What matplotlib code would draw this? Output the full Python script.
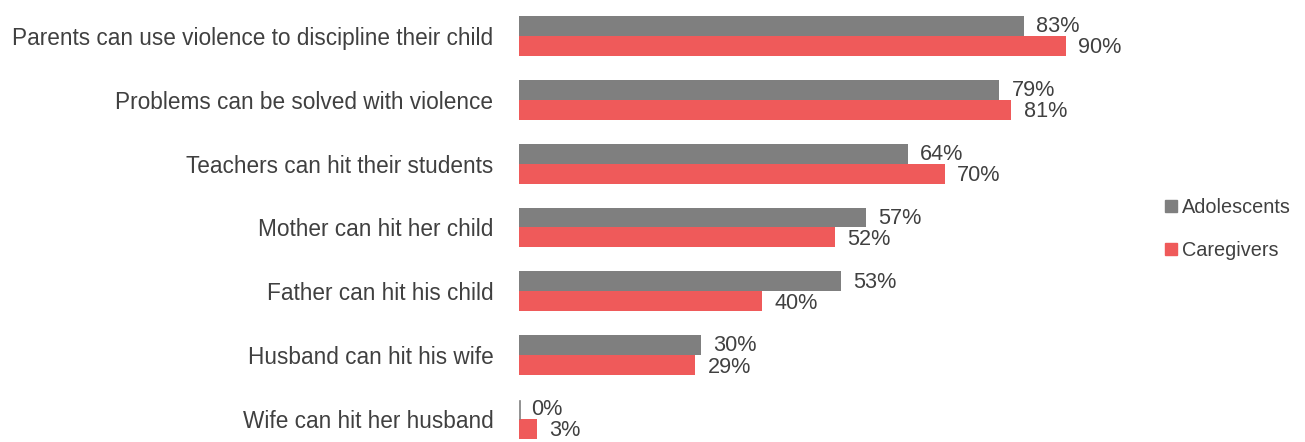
import numpy as np
import matplotlib.pyplot as plt
from matplotlib.patches import Patch

categories = [
    "Parents can use violence to discipline their child",
    "Problems can be solved with violence",
    "Teachers can hit their students",
    "Mother can hit her child",
    "Father can hit his child",
    "Husband can hit his wife",
    "Wife can hit her husband",
]
adolescents = [83, 79, 64, 57, 53, 30, 0]
caregivers = [90, 81, 70, 52, 40, 29, 3]

grey = "#7f7f7f"
red = "#ef5a5a"
txt = "#404040"

plt.rcParams["font.family"] = ["Liberation Sans", "DejaVu Sans"]

fig = plt.figure(figsize=(13.05, 4.42), dpi=100)
ax = fig.add_axes([519 / 1305, 0, 608 / 1305, 1 - 4 / 442])

y = np.arange(len(categories))
h = 0.3125
ax.barh(y - h / 2, adolescents, height=h, color=grey, label="Adolescents")
ax.barh(y + h / 2, caregivers, height=h, color=red, label="Caregivers")

# zero-value bar still shows as a thin tick at the axis
for yi, v in zip(y, adolescents):
    if v == 0:
        ax.plot([0.1, 0.1], [yi - h + 0.03, yi], color=grey, lw=1.2)

for yi, v in zip(y, adolescents):
    ax.text(v + 2.0, yi - h / 2 + 0.01, f"{v}%", va="center", ha="left",
            fontsize=15.6, color=txt)
for yi, v in zip(y, caregivers):
    ax.text(v + 2.0, yi + h / 2 + 0.03, f"{v}%", va="center", ha="left",
            fontsize=15.6, color=txt)

ax.set_xlim(0, 100)
ax.set_ylim(6 + 23 / 64, -0.5)
ax.set_yticks(y)
ax.set_yticklabels(categories, fontsize=16.3, color=txt)
ax.tick_params(axis="y", length=0, pad=18.5)
ax.set_xticks([])
for s in ax.spines.values():
    s.set_visible(False)

handles = [Patch(color=grey), Patch(color=red)]
fig.legend(handles, ["Adolescents", "Caregivers"], loc="center left",
           bbox_to_anchor=(1147 / 1305, 1 - 229 / 442), frameon=False,
           fontsize=14.3, handlelength=0.6, handleheight=0.6, handletextpad=0.25,
           labelspacing=1.2, labelcolor=txt)

fig.savefig("out.png", dpi=100)
